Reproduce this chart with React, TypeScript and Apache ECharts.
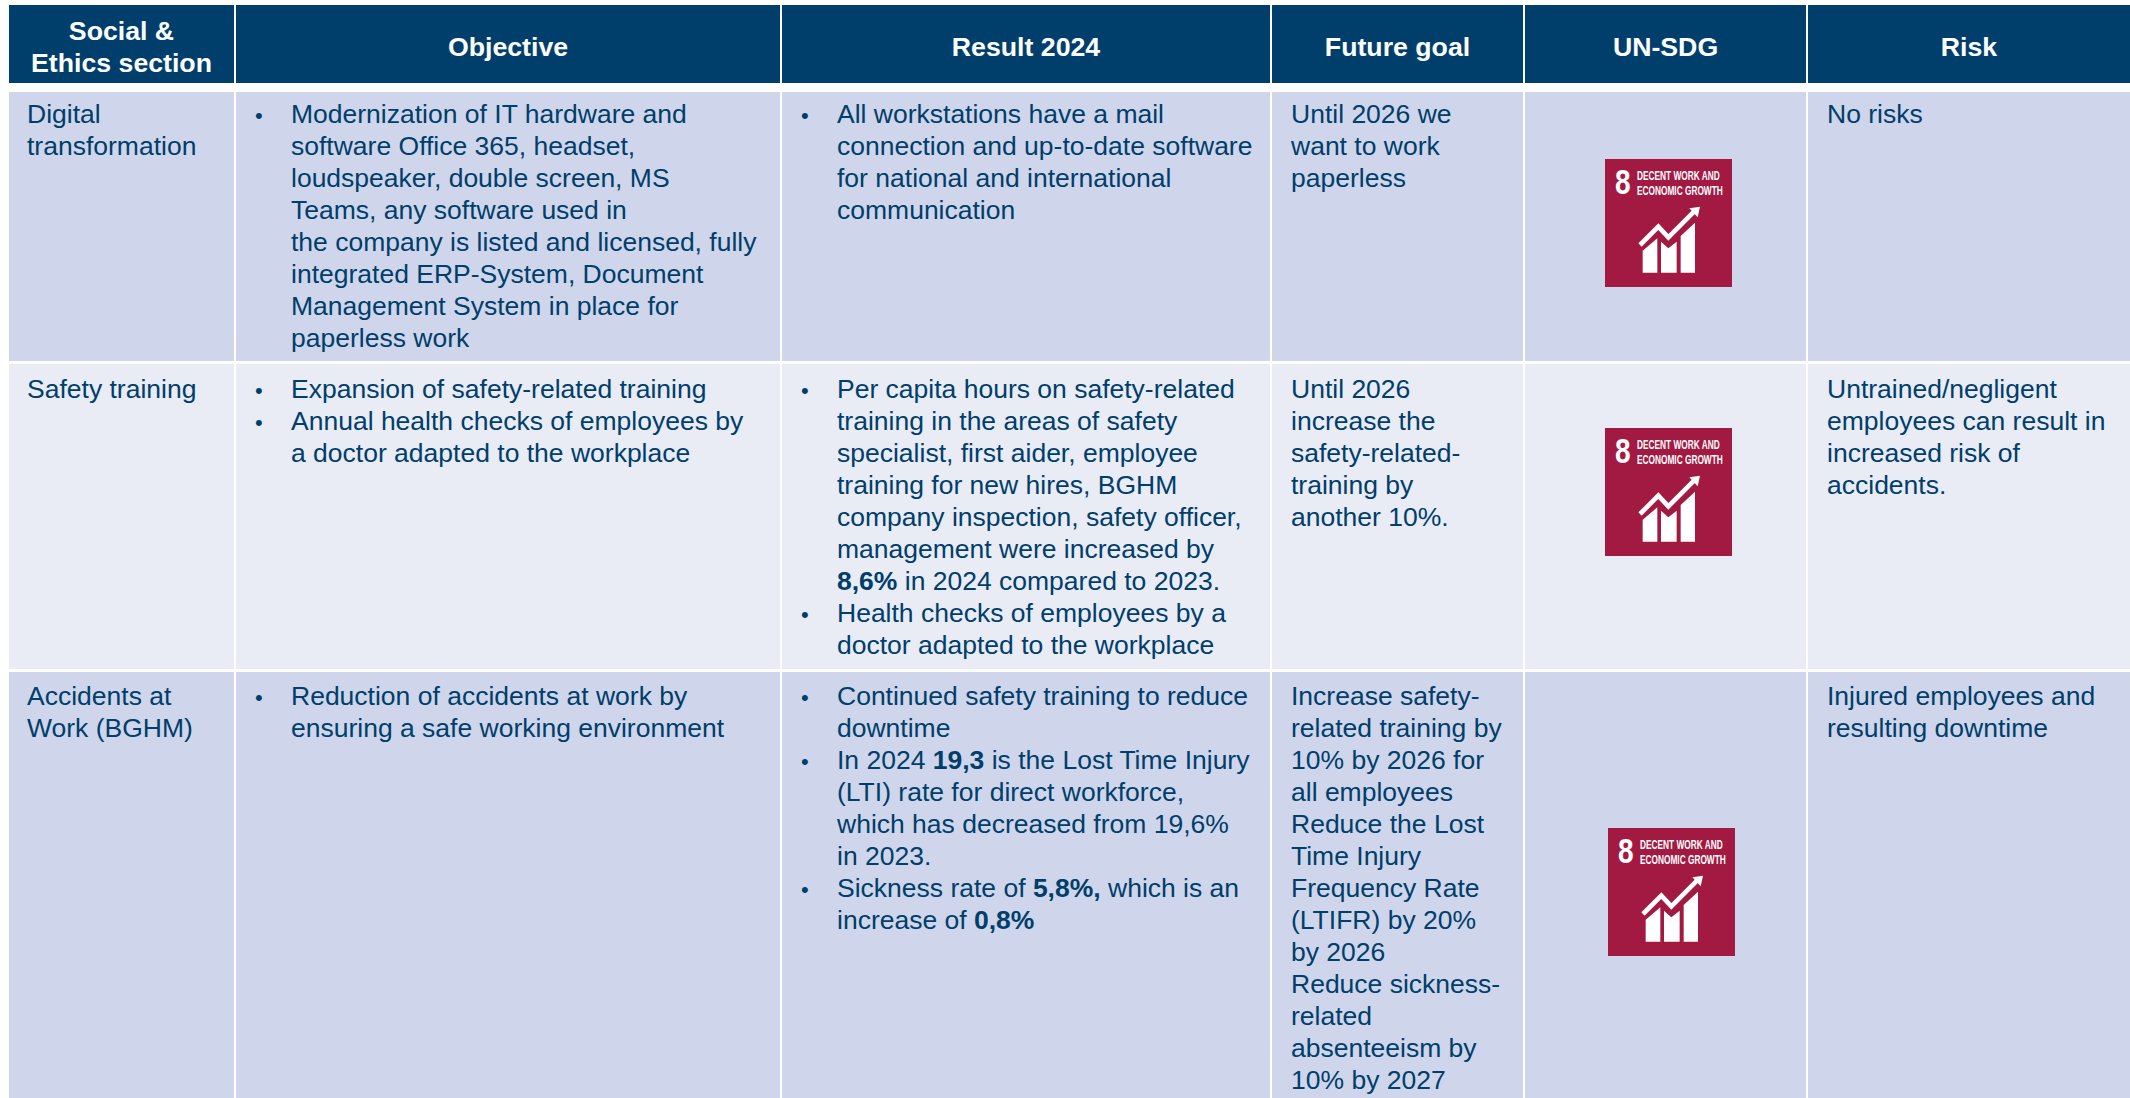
import React, { useEffect, useRef } from "react";
import * as echarts from "echarts";

const headers = [["Social &", "Ethics section"], ["Objective"], ["Result 2024"], ["Future goal"], ["UN-SDG"], ["Risk"]];

const sectionLines = [
  ["Digital", "transformation"],
  ["Safety training"],
  ["Accidents at", "Work (BGHM)"],
];
const objectiveLines = [
  ["• Modernization of IT hardware and", "software Office 365, headset,", "loudspeaker, double screen, MS", "Teams, any software used in", "the company is listed and licensed, fully", "integrated ERP-System, Document", "Management System in place for", "paperless work"],
  ["• Expansion of safety-related training", "• Annual health checks of employees by", "a doctor adapted to the workplace"],
  ["• Reduction of accidents at work by", "ensuring a safe working environment"],
];
const resultLines = [
  ["• All workstations have a mail", "connection and up-to-date software", "for national and international", "communication"],
  ["• Per capita hours on safety-related", "training in the areas of safety", "specialist, first aider, employee", "training for new hires, BGHM", "company inspection, safety officer,", "management were increased by", "**8,6%** in 2024 compared to 2023.", "• Health checks of employees by a", "doctor adapted to the workplace"],
  ["• Continued safety training to reduce", "downtime", "• In 2024 **19,3** is the Lost Time Injury", "(LTI) rate for direct workforce,", "which has decreased from 19,6%", "in 2023.", "• Sickness rate of **5,8%,** which is an", "increase of **0,8%**"],
];
const goalLines = [
  ["Until 2026 we", "want to work", "paperless"],
  ["Until 2026", "increase the", "safety-related-", "training by", "another 10%."],
  ["Increase safety-", "related training by", "10% by 2026 for", "all employees", "Reduce the Lost", "Time Injury", "Frequency Rate", "(LTIFR) by 20%", "by 2026", "Reduce sickness-", "related", "absenteeism by", "10% by 2027"],
];
const riskLines = [
  ["No risks"],
  ["Untrained/negligent", "employees can result in", "increased risk of", "accidents."],
  ["Injured employees and", "resulting downtime"],
];
const sdgNumber = "8";
const sdgTitle = ["DECENT WORK AND", "ECONOMIC GROWTH"];

const NAVY = "#003F6C";
const TEXT = "#003E6B";
const ROW_A = "#CFD5EA";
const ROW_B = "#E9EBF5";
const SDG = "#A21942";
const FONT = "'Liberation Sans', Arial, sans-serif";
const SIZE = 26.5;
const HEAD_SIZE = 26.7;
const LINE = 32;

const colX: [number, number][] = [[9, 234], [236, 780], [782, 1270], [1272, 1523], [1525, 1806], [1808, 2130]];
const rowY: [number, number][] = [[92, 361], [364, 669], [672, 1098]];
const firstLineY = [114, 389, 696];
const iconPos: [number, number][] = [[1605, 159], [1605, 428], [1608, 828]];

function textEl(x: number, y: number, raw: string, extra: any = {}) {
  const parts = raw.split("**");
  const styled = parts.map((p, i) => (p === "" ? "" : `{${i % 2 ? "b" : "n"}|${p}}`)).join("");
  const base = { fontFamily: FONT, fontSize: SIZE, fill: TEXT };
  return {
    type: "text",
    x,
    y,
    silent: true,
    style: {
      text: styled,
      ...base,
      align: "left",
      verticalAlign: "middle",
      rich: { n: { ...base, fontWeight: "normal" }, b: { ...base, fontWeight: "bold" } },
      ...extra,
    },
  };
}

function cellLines(lines: string[], row: number, textX: number, bulletX?: number) {
  const out: any[] = [];
  lines.forEach((l, i) => {
    const y = firstLineY[row] + i * LINE;
    let s = l;
    if (s.startsWith("• ")) {
      s = s.slice(2);
      out.push({
        type: "text", x: (bulletX as number) + 1, y: y + 1.4, silent: true,
        style: { text: "•", fontFamily: FONT, fontSize: 22, fill: TEXT, align: "left", verticalAlign: "middle" },
      });
    }
    out.push(textEl(textX, y, s));
  });
  return out;
}

function sdgIcon(x: number, y: number) {
  const t = (zx: number, zy: number): [number, number] => [(zx - 135) / 3, (zy - 87) / 3];
  const poly = (pts: number[][]) => ({
    type: "polygon", silent: true,
    shape: { points: pts.map((p) => t(p[0], p[1])) },
    style: { fill: "#fff" },
  });
  const small = (top: number, s: string) => ({
    type: "text", x: 32, y: top, scaleX: 0.66, silent: true,
    style: { text: s, fontFamily: FONT, fontWeight: "bold", fontSize: 12.6, fill: "#fff", align: "left", verticalAlign: "middle" },
  });
  return {
    type: "group", x, y, silent: true,
    children: [
      { type: "rect", silent: true, shape: { x: 0, y: 0, width: 127, height: 128 }, style: { fill: SDG } },
      {
        type: "text", x: 10, y: 23, scaleX: 0.8, silent: true,
        style: { text: sdgNumber, fontFamily: FONT, fontWeight: "bold", fontSize: 35, fill: "#fff", align: "left", verticalAlign: "middle" },
      },
      small(16, sdgTitle[0]),
      small(31, sdgTitle[1]),
      poly([[248, 362], [292, 325], [292, 428], [248, 428]]),
      poly([[303, 335], [325, 355], [350, 335], [350, 428], [303, 428]]),
      poly([[362, 318], [405, 278], [405, 428], [362, 428]]),
      {
        type: "polyline", silent: true,
        shape: { points: [t(240, 345), t(295, 290), t(325, 322), t(405, 242)] },
        style: { stroke: "#fff", lineWidth: 4.6, fill: "none" },
      },
      poly([[388, 235], [420, 230], [413, 262]]),
    ],
  };
}

function buildGraphic() {
  const els: any[] = [];
  colX.forEach(([a, b], c) => {
    els.push({ type: "rect", silent: true, shape: { x: a, y: 5, width: b - a, height: 78 }, style: { fill: NAVY } });
    const cx = (a + b) / 2;
    const hs = headers[c];
    hs.forEach((h, i) => {
      els.push({
        type: "text", x: cx, y: hs.length === 2 ? 30.5 + i * 32 : 46.5, silent: true,
        style: { text: h, fontFamily: FONT, fontWeight: "bold", fontSize: HEAD_SIZE, fill: "#fff", align: "center", verticalAlign: "middle" },
      });
    });
    rowY.forEach(([t, bt], r) => {
      els.push({
        type: "rect", silent: true,
        shape: { x: a, y: t, width: b - a, height: bt - t },
        style: { fill: r % 2 ? ROW_B : ROW_A },
      });
    });
  });
  for (let r = 0; r < 3; r++) {
    els.push(...cellLines(sectionLines[r], r, 27));
    els.push(...cellLines(objectiveLines[r], r, 291, 254));
    els.push(...cellLines(resultLines[r], r, 837, 800));
    els.push(...cellLines(goalLines[r], r, 1291));
    els.push(...cellLines(riskLines[r], r, 1827));
    els.push(sdgIcon(iconPos[r][0], iconPos[r][1]));
  }
  return els;
}

export default function App() {
  const ref = useRef<HTMLDivElement>(null);
  useEffect(() => {
    document.body.style.margin = "0";
    document.body.style.overflow = "hidden";
    const chart = echarts.init(ref.current!, null, { renderer: "svg" });
    chart.setOption({ animation: false, backgroundColor: "#fff", graphic: { elements: buildGraphic() } });
    return () => chart.dispose();
  }, []);
  return <div ref={ref} style={{ width: 2130, height: 1098 }} />;
}
